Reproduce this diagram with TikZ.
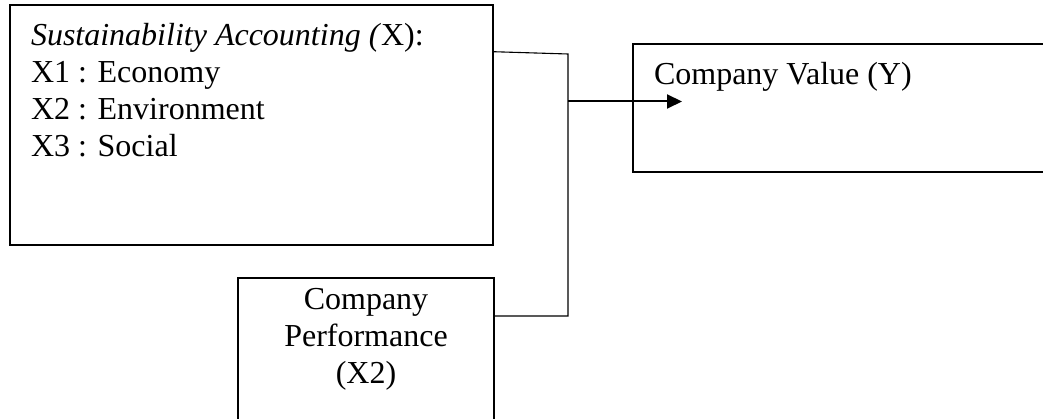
\documentclass[tikz,border=0pt]{standalone}
\usepackage{fontspec}
\setmainfont{Liberation Serif}
\usetikzlibrary{arrows.meta}
\begin{document}
\begin{tikzpicture}[x=1pt,y=-1pt,
  box/.style={draw, line width=2pt, inner sep=0pt, outer sep=0pt, anchor=north west},
  conn/.style={line width=1.1pt},
  arr/.style={line width=2pt, -{Triangle[length=15pt,width=14pt]}},
  font=\fontsize{32}{36.8}\selectfont]
\useasboundingbox (0,0) rectangle (1043,419);
\clip (0,0) rectangle (1043,419);
\node[box] (sa) at (10,5.5) {\parbox[t][240pt][t]{483pt}{\leftskip=21pt \rule{0pt}{40.5pt}\textit{Sustainability Accounting (}X):\\ X1 : Economy\\ X2 : Environment\\ X3 : Social}};
\node[box] (cv) at (633,44) {\parbox[t][128pt][t]{420pt}{\leftskip=21pt \rule{0pt}{41pt}Company Value (Y)}};
\node[box] (cp) at (238,278) {\parbox[t][160pt][t]{256pt}{\centering\rule{0pt}{31.5pt}Company\\Performance\\(X2)}};
\coordinate (j1) at (568,54);
\coordinate (jm) at (568,101.5);
\coordinate (j2) at (568,316);
\coordinate (ah) at (682,101.5);
\draw[conn] ([yshift=-46.2pt]sa.north east) -- (j1) -- (j2) -- ([yshift=-38pt]cp.north east);
\draw[arr] (jm) -- (ah);
\end{tikzpicture}
\end{document}
